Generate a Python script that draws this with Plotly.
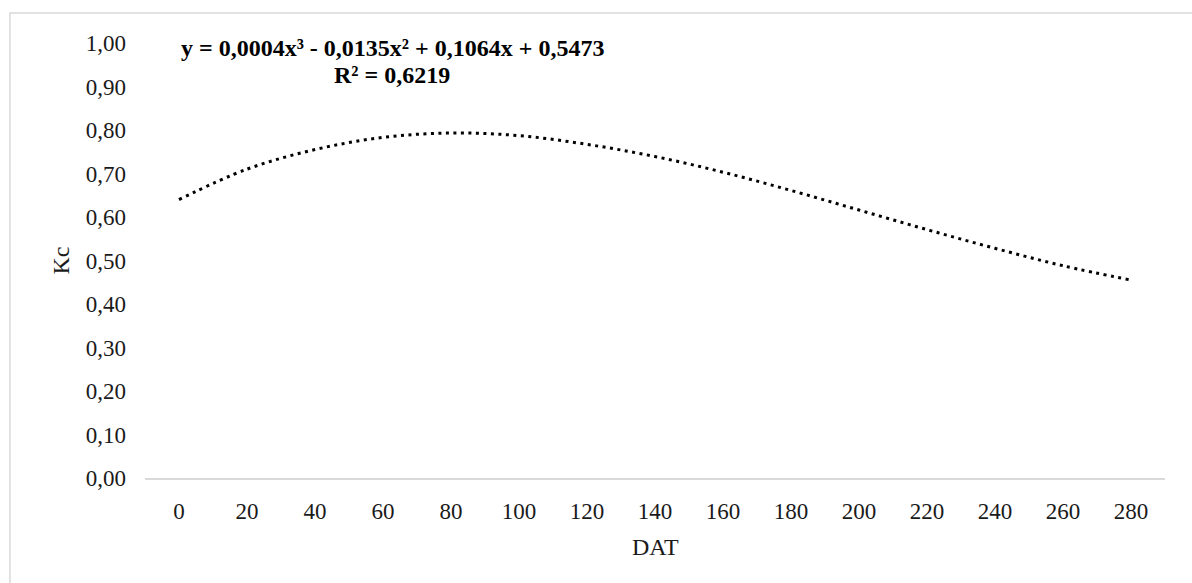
import plotly.graph_objects as go

dat = [0, 20, 40, 60, 80, 100, 120, 140, 160, 180, 200, 220, 240, 260, 280]
kc = [0.64, 0.71, 0.755, 0.783, 0.793, 0.787, 0.767, 0.739, 0.703, 0.661, 0.616, 0.571, 0.528, 0.488, 0.455]
y_ticks = [0.0, 0.1, 0.2, 0.3, 0.4, 0.5, 0.6, 0.7, 0.8, 0.9, 1.0]
equation = "y = 0,0004x³ - 0,0135x² + 0,1064x + 0,5473"
r2 = "R² = 0,6219"

FONT = "Liberation Serif"
TXT = "#1a1a1a"

fig = go.Figure()
fig.add_trace(go.Scatter(
    x=dat, y=kc, mode="lines",
    line=dict(color="black", width=3, dash="3px,4.5px", shape="spline", smoothing=1.0),
    showlegend=False, hoverinfo="skip",
))

fig.update_layout(
    width=1192, height=583,
    margin=dict(l=145, r=27, t=43, b=105),
    paper_bgcolor="white", plot_bgcolor="white",
    separators=",.",
    font=dict(family=FONT, size=23, color=TXT),
    xaxis=dict(
        range=[-10, 290], tickmode="array", tickvals=dat,
        ticktext=[str(v) for v in dat],
        showgrid=False, zeroline=False,
        showline=True, linecolor="#d9d9d9", linewidth=1.5,
        ticks="", ticklabelstandoff=12,
        tickfont=dict(family=FONT, size=23, color=TXT),
        fixedrange=True,
    ),
    yaxis=dict(
        range=[0, 1.0], tickmode="array", tickvals=y_ticks,
        tickformat=".2f",
        showgrid=False, zeroline=False, showline=False,
        ticks="", ticklabelstandoff=18,
        tickfont=dict(family=FONT, size=23, color=TXT),
        fixedrange=True,
    ),
    shapes=[dict(
        type="rect", xref="paper", yref="paper",
        x0=-0.1324, x1=1.1, y0=-0.4, y1=1.069,
        line=dict(color="#d9d9d9", width=1.5), fillcolor="rgba(0,0,0,0)",
        layer="below",
    )],
    annotations=[
        dict(text=equation, xref="paper", yref="paper", x=0.2426, y=(478 - 48) / 435,
             xanchor="center", yanchor="middle", showarrow=False,
             font=dict(family=FONT, size=24, color="black", weight="bold")),
        dict(text=r2, xref="paper", yref="paper", x=0.2426, y=(478 - 75) / 435,
             xanchor="center", yanchor="middle", showarrow=False,
             font=dict(family=FONT, size=24, color="black", weight="bold")),
        dict(text="Kc", xref="paper", yref="paper", x=(60 - 145) / 1020, y=0.5,
             xanchor="center", yanchor="middle", textangle=-90, showarrow=False,
             font=dict(family=FONT, size=24, color=TXT)),
        dict(text="DAT", xref="paper", yref="paper", x=0.5, y=(478 - 547) / 435,
             xanchor="center", yanchor="middle", showarrow=False,
             font=dict(family=FONT, size=24, color=TXT)),
    ],
)

fig.write_html("out.html")
